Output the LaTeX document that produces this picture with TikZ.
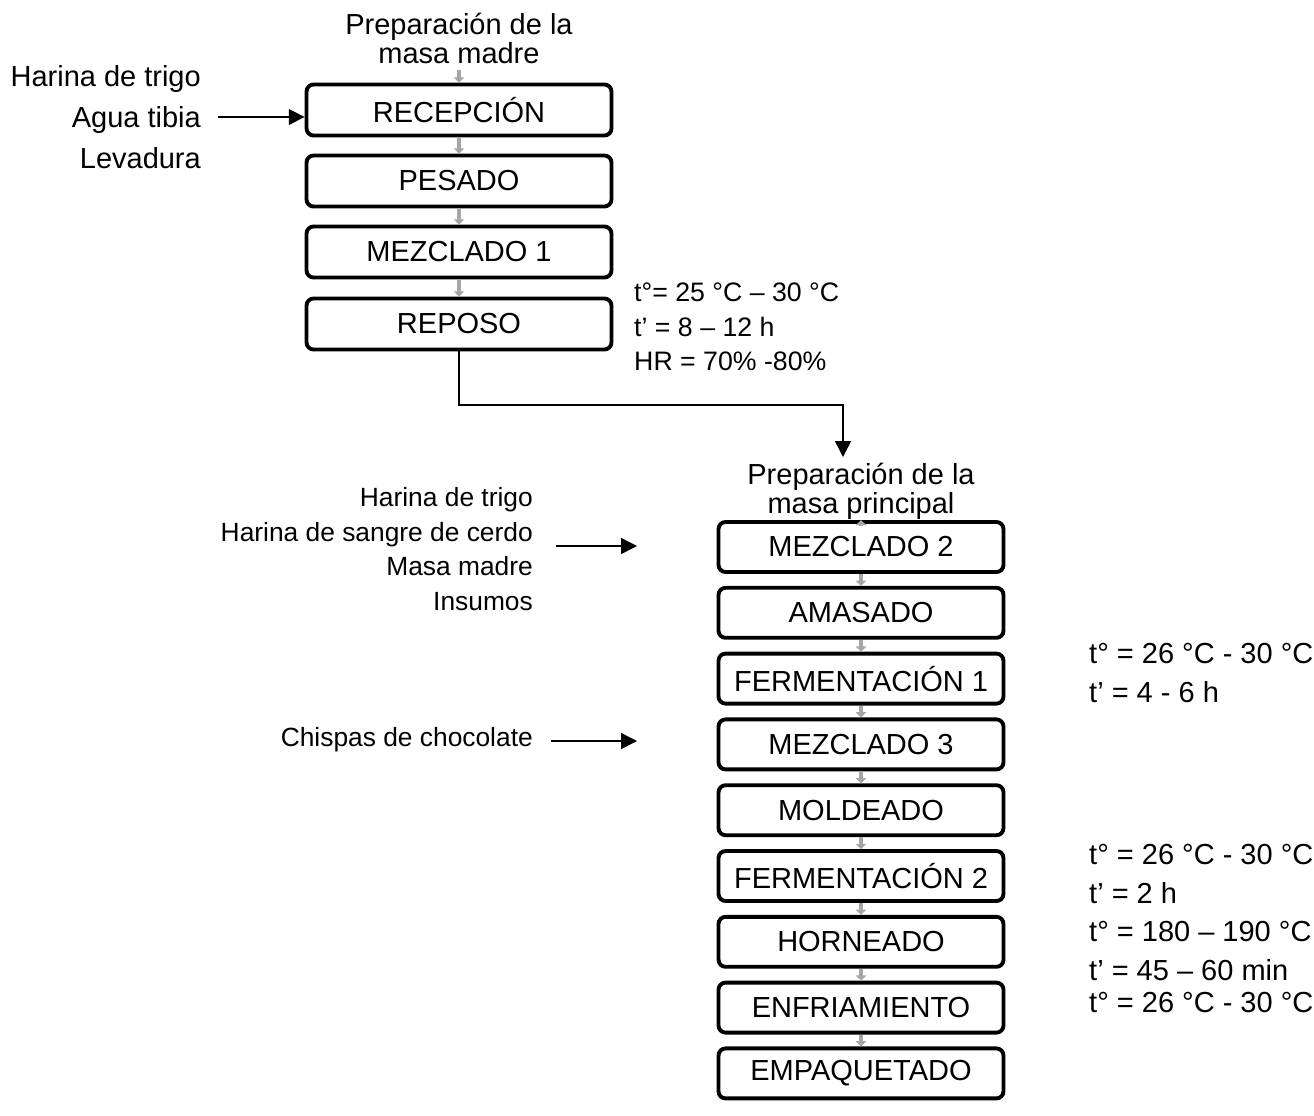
\documentclass[tikz,border=0pt]{standalone}
\usepackage{fontspec}
\setmainfont{Liberation Sans}
\usepackage{tikz}
\usetikzlibrary{arrows.meta,calc}

\begin{document}
\begin{tikzpicture}[x=0.02cm,y=-0.02cm,
  every node/.style={font=\fontsize{16.5}{19.5}\selectfont},
  smalltext/.style={font=\fontsize{15}{18}\selectfont},
  stepbox/.style={draw,line width=2.2pt,rounded corners=4pt,minimum width=6.1cm,minimum height=1.02cm,inner sep=0pt},
  stepboxb/.style={stepbox,minimum width=5.7cm,minimum height=1.0cm},
  graylink/.style={draw=black!35,line width=2.2pt,-{Triangle[length=3pt,width=6pt]}},
  flow/.style={line width=0.8pt,-{Triangle[length=9pt,width=9pt]}},
  note/.style={anchor=west,align=left},
  inlist/.style={anchor=east,align=right}]
\useasboundingbox (0,0) rectangle (1314,1115);

% masa madre
\node[align=center] (titmadre) at (459,38) {Preparación de la\\[-3pt]masa madre};
\node[stepbox] (recep) at (459,110) {RECEPCIÓN};
\node[stepbox] (pesado) at (459,181) {PESADO};
\node[stepbox] (mezc1) at (459,252) {MEZCLADO 1};
\node[stepbox] (reposo) at (459,324) {REPOSO};
\draw[graylink] (titmadre.south) -- (recep.north);
\draw[graylink] (recep.south) -- (pesado.north);
\draw[graylink] (pesado.south) -- (mezc1.north);
\draw[graylink] (mezc1.south) -- (reposo.north);

\node[inlist] (inmadre) at (207,117) {Harina de trigo\\[4pt]Agua tibia\\[4pt]Levadura};
\coordinate (inmadrestart) at (218,117);
\draw[flow] (inmadrestart) -- (inmadrestart -| recep.west);
\node[note,font=\fontsize{15.2}{18}\selectfont] (condrep) at (628,327) {t°= 25 °C – 30 °C\\[1.8pt]t’ = 8 – 12 h\\[1.8pt]HR = 70\% -80\%};

% masa principal
\coordinate (turn) at (843,405);
\coordinate (tomain) at (843,457);
\draw[flow] (reposo.south) |- (turn) -- (tomain);

\node[align=center] (titprin) at (861,491) {Preparación de la\\[-3pt]masa principal};
\foreach \name/\txt [count=\i from 0] in {mezc2/MEZCLADO 2,amasado/AMASADO,ferm1/FERMENTACIÓN 1,mezc3/MEZCLADO 3,molde/MOLDEADO,ferm2/FERMENTACIÓN 2,horno/HORNEADO,enfri/ENFRIAMIENTO,empaq/EMPAQUETADO}
  \node[stepboxb] (\name) at (861,{547+65.8*\i}) {\txt};
\draw[graylink] (titprin.south) -- (mezc2.north);
\foreach \a/\b in {mezc2/amasado,amasado/ferm1,ferm1/mezc3,mezc3/molde,molde/ferm2,ferm2/horno,horno/enfri,enfri/empaq}
  \draw[graylink] (\a.south) -- (\b.north);

\node[inlist,smalltext] (inprin) at (539,549) {Harina de trigo\\[1.8pt]Harina de sangre de cerdo\\[1.8pt]Masa madre\\[1.8pt]Insumos};
\coordinate (inprinstart) at (556,546);
\coordinate (inprinend) at (637,546);
\draw[flow] (inprinstart) -- (inprinend);
\node[inlist,smalltext] (chispas) at (539,740) {Chispas de chocolate};
\coordinate (chispstart) at (551,741);
\coordinate (chispend) at (637,741);
\draw[flow] (chispstart) -- (chispend);

\node[note] (condf1) at (1083,673) {t° = 26 °C - 30 °C\\[3pt]t’ = 4 - 6 h};
\node[note] (condf2) at (1083,874) {t° = 26 °C - 30 °C\\[3pt]t’ = 2 h};
\node[note] (condho) at (1083,951) {t° = 180 – 190 °C\\[3pt]t’ = 45 – 60 min};
\node[note] (condenf) at (1083,1003) {t° = 26 °C - 30 °C};
\end{tikzpicture}
\end{document}
